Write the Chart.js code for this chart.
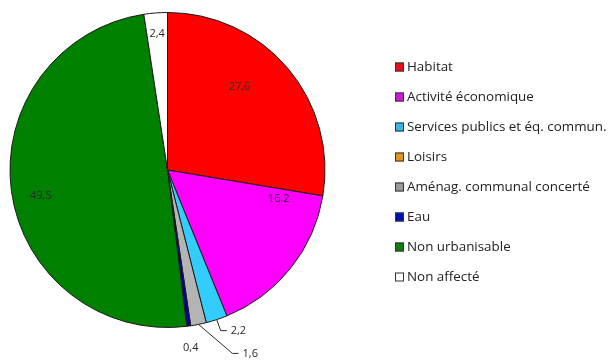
<!DOCTYPE html>
<html>
<head>
<meta charset="utf-8">
<script src="https://cdn.jsdelivr.net/npm/chart.js@4.4.1/dist/chart.umd.min.js"></script>
<style>
  html, body { margin: 0; padding: 0; background: #fff; }
  #wrap { position: relative; width: 611px; height: 360px; }
</style>
</head>
<body>
<div id="wrap"><canvas id="pieChart" width="611" height="360"></canvas></div>
<script>
// --- DATA ---
const categories = ['Habitat', 'Activité économique', 'Services publics et éq. commun.', 'Loisirs',
    'Aménag. communal concerté', 'Eau', 'Non urbanisable', 'Non affecté'];
const shares = [27.6, 16.2, 2.2, 0, 1.6, 0.4, 49.5, 2.4];
const shareLabels = ['27,6', '16,2', '2,2', '', '1,6', '0,4', '49,5', '2,4'];

const sliceColors = ['#ff0000', '#ff00ff', '#33ccff', '#e69a1c', '#b4b4b4', '#0000a0', '#008000', '#ffffff'];
const legendColors = ['#e0141a', '#c81ed2', '#38b4e6', '#e0961e', '#9a9a9a', '#0010b0', '#147a14', '#ffffff'];

// label placement: t = fraction along the arc, r = fraction of radius
// out = outside label with a leader line from edge point
const labelPlace = [
    { t: 0.41, r: 0.70 },
    { t: 0.09, r: 0.73 },
    { t: 0.5, r: 1.0, out: { elbow: [4, 11], end: [10, 11] } },
    null,
    { t: 0.5, r: 1.0, out: { elbow: [34, 29], end: [40, 29] } },
    { t: 0.5, r: 1.0, out: { plain: [2, 22] } },
    { t: 0.48, r: 0.82 },
    { t: 0.5, r: 0.87 }
];

// --- DATA LABELS PLUGIN ---
const pieLabels = {
    id: 'pieLabels',
    afterDatasetsDraw(chart) {
        const ctx = chart.ctx;
        const meta = chart.getDatasetMeta(0);
        ctx.save();
        ctx.font = '11px "Open Sans", sans-serif';
        ctx.fillStyle = '#2a2a2a';
        ctx.strokeStyle = '#2a2a2a';
        ctx.lineWidth = 1;
        meta.data.forEach((arc, i) => {
            const p = labelPlace[i];
            if (!p || !shareLabels[i]) return;
            const a = arc.startAngle + (arc.endAngle - arc.startAngle) * p.t;
            const x = arc.x + Math.cos(a) * arc.outerRadius * p.r;
            const y = arc.y + Math.sin(a) * arc.outerRadius * p.r;
            if (p.out && p.out.elbow) {
                const ex = x + p.out.elbow[0], ey = y + p.out.elbow[1];
                const fx = x + p.out.end[0], fy = y + p.out.end[1];
                ctx.beginPath();
                ctx.moveTo(x, y);
                ctx.lineTo(ex, ey);
                ctx.lineTo(fx, fy);
                ctx.stroke();
                ctx.textAlign = 'left';
                ctx.textBaseline = 'middle';
                ctx.fillText(shareLabels[i], fx + 4, fy);
            } else if (p.out && p.out.plain) {
                ctx.textAlign = 'center';
                ctx.textBaseline = 'middle';
                ctx.fillText(shareLabels[i], x + p.out.plain[0], y + p.out.plain[1]);
            } else {
                ctx.textAlign = 'center';
                ctx.textBaseline = 'middle';
                ctx.fillText(shareLabels[i], x, y);
            }
        });
        ctx.restore();
    }
};

// --- LEGEND PLUGIN ---
const sideLegend = {
    id: 'sideLegend',
    afterDraw(chart) {
        const ctx = chart.ctx;
        const left = 395, top = 67, step = 30, box = 9;
        ctx.save();
        ctx.font = '13.4px "Open Sans", sans-serif';
        ctx.textBaseline = 'middle';
        ctx.textAlign = 'left';
        categories.forEach((name, i) => {
            const y = top + i * step;
            ctx.fillStyle = legendColors[i];
            ctx.fillRect(left, y - box / 2, box, box);
            ctx.strokeStyle = '#333';
            ctx.lineWidth = 1;
            ctx.strokeRect(left + 0.5, y - box / 2 + 0.5, box - 1, box - 1);
            ctx.fillStyle = '#222';
            ctx.fillText(name, left + box + 3, y);
        });
        ctx.restore();
    }
};

const ctxPie = document.getElementById('pieChart').getContext('2d');
new Chart(ctxPie, {
    type: 'pie',
    data: {
        labels: categories,
        datasets: [{
            data: shares,
            backgroundColor: sliceColors,
            borderColor: '#1a1a1a',
            borderWidth: 1
        }]
    },
    options: {
        responsive: false,
        animation: false,
        layout: { padding: { left: 9, top: 12, right: 285, bottom: 32 } },
        plugins: {
            legend: { display: false },
            tooltip: { enabled: false }
        }
    },
    plugins: [pieLabels, sideLegend]
});
</script>
</body>
</html>
